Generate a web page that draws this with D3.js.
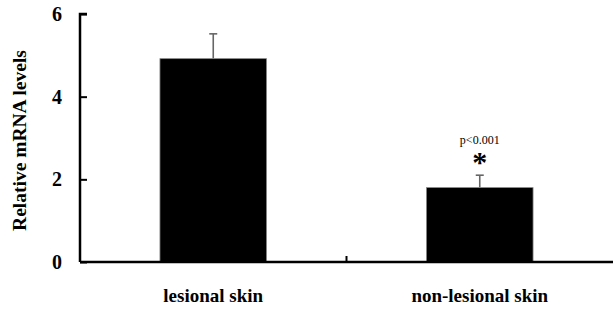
<!DOCTYPE html>
<html><head><meta charset="utf-8">
<script src="https://cdn.jsdelivr.net/npm/d3@7"></script>
<style>body{margin:0;background:#fff}svg{display:block}</style>
</head><body>
<script>
const categories = ["lesional skin", "non-lesional skin"];
const values = [4.92, 1.80];
const errors = [0.60, 0.30];
const yTicks = [0, 2, 4, 6];
const annotation = {category: "non-lesional skin", pText: "p<0.001", star: "*"};

const W = 613, H = 309;
const svg = d3.select("body").append("svg").attr("width", W).attr("height", H);
const x = d3.scaleBand().domain(categories).range([80, 613]).padding(0);
const y = d3.scaleLinear().domain([0, 6]).range([262, 14]);
const font = "'Liberation Serif','Times New Roman',serif";
const barW = x.bandwidth() * 0.4;

// error bars
const eg = svg.append("g");
categories.forEach((c, i) => {
  const cx = x(c) + x.bandwidth() / 2;
  eg.append("line").attr("x1", cx).attr("x2", cx).attr("y1", y(values[i])).attr("y2", y(values[i] + errors[i]))
    .attr("stroke", "#666").attr("stroke-width", 1.6);
  eg.append("line").attr("x1", cx - 4).attr("x2", cx + 4).attr("y1", y(values[i] + errors[i])).attr("y2", y(values[i] + errors[i]))
    .attr("stroke", "#666").attr("stroke-width", 1.6);
});

svg.append("g").selectAll("rect").data(categories).join("rect")
  .attr("x", d => x(d) + (x.bandwidth() - barW) / 2)
  .attr("width", barW)
  .attr("y", (d, i) => y(values[i]))
  .attr("height", (d, i) => y(0) - y(values[i]))
  .attr("fill", "#000").attr("stroke", "#888").attr("stroke-width", 0.8);

// y axis
const ya = svg.append("g").attr("transform", "translate(80,0)")
  .call(d3.axisLeft(y).tickValues(yTicks).tickFormat(d3.format("d")).tickSize(-7).tickPadding(18));
ya.select(".domain").attr("d", `M7,${y(6)}H0V${y(0)}`).attr("stroke", "#000").attr("stroke-width", 2.5);
ya.selectAll(".tick line").attr("stroke", "#000").attr("stroke-width", 2);
ya.selectAll(".tick text").attr("font-family", font).attr("font-weight", "bold").attr("font-size", 20).attr("fill", "#000");

// x axis
const xa = svg.append("g").attr("transform", `translate(0,${y(0)})`);
xa.append("line").attr("x1", 80).attr("x2", 613).attr("y1", 0).attr("y2", 0).attr("stroke", "#000").attr("stroke-width", 2.5);
xa.append("line").attr("x1", x(categories[1])).attr("x2", x(categories[1])).attr("y1", 0).attr("y2", -6).attr("stroke", "#000").attr("stroke-width", 2);
xa.selectAll("text").data(categories).join("text")
  .attr("x", d => x(d) + x.bandwidth() / 2).attr("y", 40)
  .attr("text-anchor", "middle").attr("font-family", font).attr("font-weight", "bold").attr("font-size", 19)
  .text(d => d);

// y title
svg.append("text").attr("transform", `translate(26,140.5) rotate(-90)`)
  .attr("text-anchor", "middle").attr("font-family", font).attr("font-weight", "bold").attr("font-size", 19.5)
  .text("Relative mRNA levels");

// annotation
const ai = categories.indexOf(annotation.category);
const acx = x(annotation.category) + x.bandwidth() / 2;
const topY = y(values[ai] + errors[ai]);
svg.append("text").attr("x", acx).attr("y", topY - 31).attr("text-anchor", "middle")
  .attr("font-family", font).attr("font-size", 12).text(annotation.pText);
svg.append("text").attr("x", acx).attr("y", topY - 3).attr("text-anchor", "middle")
  .attr("font-family", font).attr("font-weight", "bold").attr("font-size", 30).text(annotation.star);
</script>
</body></html>
